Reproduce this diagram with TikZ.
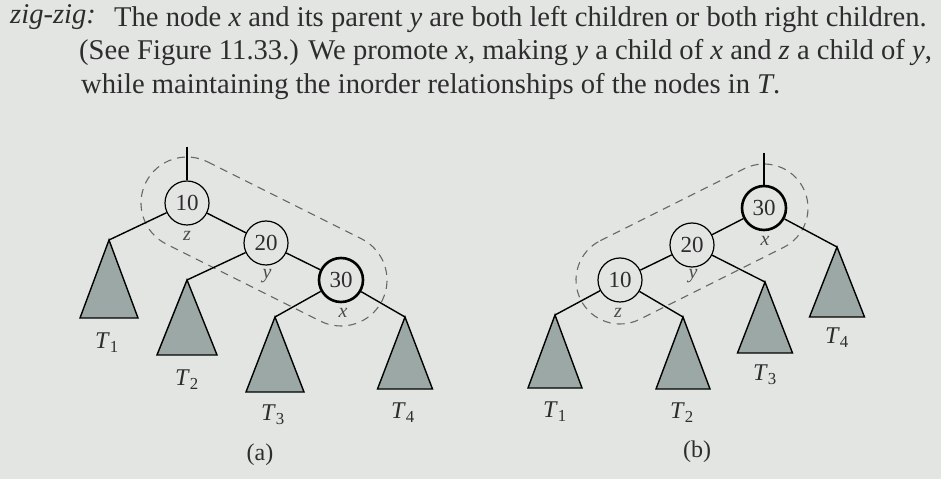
\documentclass[tikz,border=0pt]{standalone}
\usepackage{fontspec}
\setmainfont{Liberation Serif}
\usetikzlibrary{calc}
\definecolor{paper}{RGB}{226,229,226}
\definecolor{ink}{RGB}{45,45,45}
\definecolor{trifill}{RGB}{156,168,166}
\definecolor{dashgray}{RGB}{100,105,105}
\tikzset{
  tnode/.style={circle, draw=black, line width=1.2pt, minimum size=44pt, inner sep=0pt,
    font=\fontsize{23}{23}\selectfont, text=ink, fill=paper},
  xnode/.style={tnode, line width=2.6pt},
  edgeline/.style={line width=1.4pt, black},
  subtree/.style={draw=black, line width=1.4pt, fill=trifill, line join=miter},
  grpline/.style={draw=dashgray, line width=1.1pt, dash pattern=on 8pt off 6pt},
  varlbl/.style={font=\fontsize{20}{20}\selectfont\itshape, text=ink!85, inner sep=0pt},
  tlbl/.style={font=\fontsize{24}{24}\selectfont, text=ink, inner sep=0pt},
  bodytext/.style={font=\fontsize{28.6}{33}\selectfont, text=ink, inner sep=0pt, anchor=base west},
}
\newcommand{\subtri}[3]{\draw[subtree] (#1) -- ++(-#2,-#3) -- ++(2*#2,0) -- cycle;}
\newcommand{\Tl}[1]{\textit{T}\textsubscript{#1}}
\begin{document}
\begin{tikzpicture}[x=1pt,y=1pt]
\fill[paper] (0,0) rectangle (941,479);
\useasboundingbox (0,0) rectangle (941,479);

% text
\node[bodytext] (l0) at (10,455) {\textit{zig-zig:}};
\node[bodytext] (l1) at (114,452) {The node \textit{x} and its parent \textit{y} are both left children or both right children.};
\node[bodytext] (l2) at (79,419) {(See Figure 11.33.) We promote \textit{x}, making \textit{y} a child of \textit{x} and \textit{z} a child of \textit{y},};
\node[bodytext] (l3) at (81,385) {while maintaining the inorder relationships of the nodes in \textit{T}.};

% ---------- (a) ----------
\draw[grpline, rotate around={-26.565:(187,276)}]
  (187,322) -- (359.2,322) arc[start angle=90, end angle=-90, radius=46]
  -- (187,230) arc[start angle=270, end angle=90, radius=46] -- cycle;

\node[tnode] (a10) at (187,276) {10};
\node[tnode] (a20) at (266,236) {20};
\node[xnode] (a30) at (341,199) {30};
\coordinate (atop) at (187,332);
\coordinate (a1) at (109,239);
\coordinate (a2) at (187,199);
\coordinate (a3) at (275,162);
\coordinate (a4) at (405,162);

\draw[edgeline] (atop) -- (a10);
\draw[edgeline] (a10) -- (a1);
\draw[edgeline] (a10) -- (a20);
\draw[edgeline] (a20) -- (a2);
\draw[edgeline] (a20) -- (a30);
\draw[edgeline] (a30) -- (a3);
\draw[edgeline] (a30) -- (a4);

\subtri{a1}{29}{78}
\subtri{a2}{30}{75}
\subtri{a3}{29}{75}
\subtri{a4}{27.5}{72}

\node[varlbl] (az) at (187,243) {z};
\node[varlbl] (ay) at (267,203) {y};
\node[varlbl] (ax) at (343,166) {x};

\node[tlbl] (aT1) at (107,136) {\Tl{1}};
\node[tlbl] (aT2) at (187,99) {\Tl{2}};
\node[tlbl] (aT3) at (273,64) {\Tl{3}};
\node[tlbl] (aT4) at (403,66) {\Tl{4}};
\node[tlbl] (acap) at (260,24) {(a)};

% ---------- (b) ----------
\draw[grpline, rotate around={26.565:(620,199)}]
  (620,243) -- (781,243) arc[start angle=90, end angle=-90, radius=44]
  -- (620,155) arc[start angle=270, end angle=90, radius=44] -- cycle;

\node[xnode] (b30) at (764,271) {30};
\node[tnode] (b20) at (692,234) {20};
\node[tnode] (b10) at (620,199) {10};
\coordinate (btop) at (764,326);
\coordinate (b1) at (555,164);
\coordinate (b2) at (683,162);
\coordinate (b3) at (765,197);
\coordinate (b4) at (837,232);

\draw[edgeline] (btop) -- (b30);
\draw[edgeline] (b30) -- (b20);
\draw[edgeline] (b30) -- (b4);
\draw[edgeline] (b20) -- (b10);
\draw[edgeline] (b20) -- (b3);
\draw[edgeline] (b10) -- (b1);
\draw[edgeline] (b10) -- (b2);

\subtri{b1}{27}{73}
\subtri{b2}{27}{72}
\subtri{b3}{27.5}{71}
\subtri{b4}{27.5}{70}

\node[varlbl] (bx) at (765,238) {x};
\node[varlbl] (by) at (693,203) {y};
\node[varlbl] (bz) at (618,166) {z};

\node[tlbl] (bT1) at (555,67) {\Tl{1}};
\node[tlbl] (bT2) at (682,66) {\Tl{2}};
\node[tlbl] (bT3) at (765,104) {\Tl{3}};
\node[tlbl] (bT4) at (837,141) {\Tl{4}};
\node[tlbl] (bcap) at (697,27) {(b)};
\end{tikzpicture}
\end{document}
